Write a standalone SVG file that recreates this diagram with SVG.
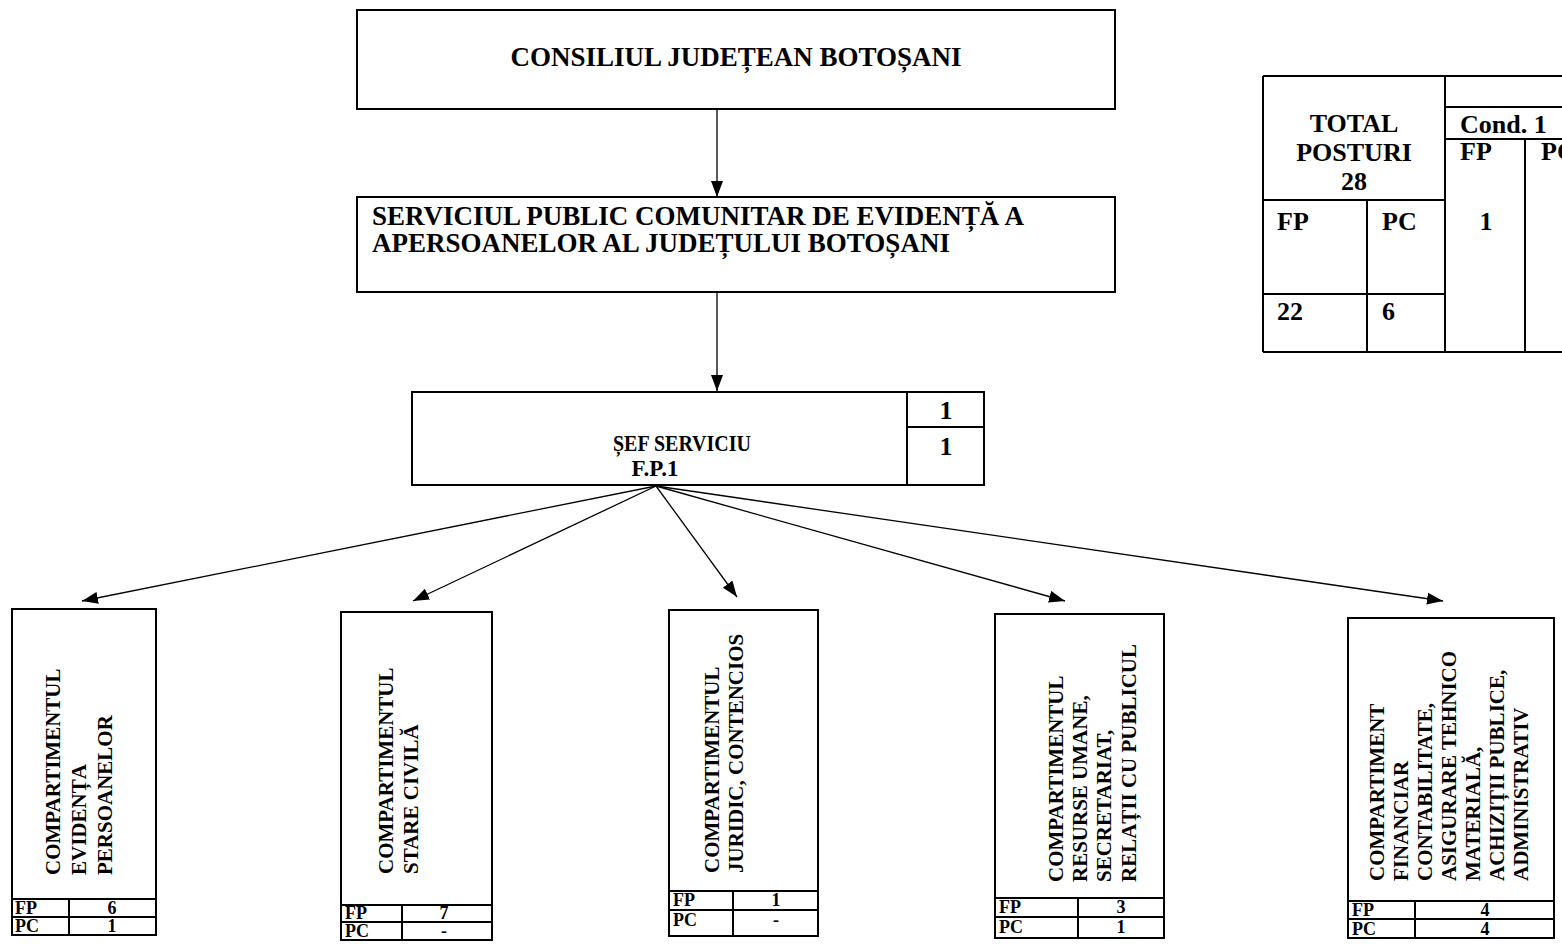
<svg xmlns="http://www.w3.org/2000/svg" width="1562" height="950" viewBox="0 0 1562 950">
<style>
.b{fill:#fff;stroke:#000;stroke-width:2}
.l{stroke:#000;stroke-width:2;fill:none}
.c{stroke:#000;stroke-width:1.3;fill:none;marker-end:url(#ah)}
text{font-family:"Liberation Serif","Times New Roman",serif;font-weight:bold;fill:#000}
.h{font-size:27px}
.t{font-size:26px}
.m{font-size:21px}
.s{font-size:18px}
.mid{text-anchor:middle}
</style>
<defs>
<marker id="ah" markerUnits="userSpaceOnUse" markerWidth="16" markerHeight="12" refX="16" refY="6" orient="auto" viewBox="0 0 16 12">
<path d="M0,0 L16,6 L0,12 z" fill="#000"/>
</marker>
</defs>

<g id="connectors">
<line class="c" x1="717" y1="110" x2="717" y2="197"/>
<line class="c" x1="717" y1="292" x2="717" y2="391"/>
<line class="c" x1="656" y1="486" x2="82" y2="601"/>
<line class="c" x1="656" y1="486" x2="413" y2="601"/>
<line class="c" x1="656" y1="486" x2="737" y2="597"/>
<line class="c" x1="656" y1="486" x2="1065" y2="601"/>
<line class="c" x1="656" y1="486" x2="1443" y2="601"/>
</g>

<g id="consiliul">
<rect class="b" x="357" y="10" width="758" height="99"/>
<text class="h mid" x="736" y="66">CONSILIUL JUDEȚEAN BOTOȘANI</text>
</g>

<g id="serviciul">
<rect class="b" x="357" y="197" width="758" height="95"/>
<text class="h" x="372" y="225">SERVICIUL PUBLIC COMUNITAR DE EVIDENȚĂ A</text>
<text class="h" x="372" y="252">APERSOANELOR AL JUDEȚULUI BOTOȘANI</text>
</g>

<g id="sef">
<rect class="b" x="412" y="392" width="572" height="93"/>
<line class="l" x1="907" y1="392" x2="907" y2="485"/>
<line class="l" x1="907" y1="427" x2="984" y2="427"/>
<text class="mid" style="font-size:23px" x="682" y="451" textLength="138" lengthAdjust="spacingAndGlyphs">ȘEF SERVICIU</text>
<text class="mid" style="font-size:23px" x="655" y="476">F.P.1</text>
<text class="t mid" x="946" y="419">1</text>
<text class="t mid" x="946" y="455">1</text>
</g>

<g id="total">
<line class="l" x1="1263" y1="76" x2="1563" y2="76"/>
<line class="l" x1="1263" y1="352" x2="1563" y2="352"/>
<line class="l" x1="1263" y1="76" x2="1263" y2="352"/>
<line class="l" x1="1445" y1="76" x2="1445" y2="352"/>
<line class="l" x1="1445" y1="107" x2="1563" y2="107"/>
<line class="l" x1="1445" y1="139" x2="1563" y2="139"/>
<line class="l" x1="1525" y1="139" x2="1525" y2="352"/>
<line class="l" x1="1263" y1="200" x2="1445" y2="200"/>
<line class="l" x1="1367" y1="200" x2="1367" y2="352"/>
<line class="l" x1="1263" y1="294" x2="1445" y2="294"/>
<text class="t mid" x="1354" y="132">TOTAL</text>
<text class="t mid" x="1354" y="161">POSTURI</text>
<text class="t mid" x="1354" y="190">28</text>
<text class="t" x="1460" y="133">Cond. 1</text>
<text class="t" x="1460" y="160">FP</text>
<text class="t" x="1541" y="160">PC</text>
<text class="t mid" x="1486" y="230">1</text>
<text class="t" x="1277" y="230">FP</text>
<text class="t" x="1382" y="230">PC</text>
<text class="t" x="1277" y="320">22</text>
<text class="t" x="1382" y="320">6</text>
</g>

<g id="comp1">
<rect class="b" x="12" y="609" width="144" height="326"/>
<line class="l" x1="12" y1="899" x2="156" y2="899"/>
<line class="l" x1="12" y1="917" x2="156" y2="917"/>
<line class="l" x1="69" y1="899" x2="69" y2="935"/>
<text class="m" transform="translate(60,875) rotate(-90)">COMPARTIMENTUL</text>
<text class="m" transform="translate(86,875) rotate(-90)">EVIDENȚA</text>
<text class="m" transform="translate(112,875) rotate(-90)">PERSOANELOR</text>
<text class="s" x="15" y="914">FP</text>
<text class="s mid" x="112" y="914">6</text>
<text class="s" x="15" y="932">PC</text>
<text class="s mid" x="112" y="932">1</text>
</g>

<g id="comp2">
<rect class="b" x="341" y="612" width="151" height="328"/>
<line class="l" x1="341" y1="905" x2="492" y2="905"/>
<line class="l" x1="341" y1="922" x2="492" y2="922"/>
<line class="l" x1="402" y1="905" x2="402" y2="940"/>
<text class="m" transform="translate(393,874) rotate(-90)">COMPARTIMENTUL</text>
<text class="m" transform="translate(418,874) rotate(-90)">STARE CIVILĂ</text>
<text class="s" x="345" y="919">FP</text>
<text class="s mid" x="444" y="919">7</text>
<text class="s" x="345" y="937">PC</text>
<text class="s mid" x="444" y="937">-</text>
</g>

<g id="comp3">
<rect class="b" x="669" y="610" width="149" height="326"/>
<line class="l" x1="669" y1="891" x2="818" y2="891"/>
<line class="l" x1="669" y1="910" x2="818" y2="910"/>
<line class="l" x1="733" y1="891" x2="733" y2="936"/>
<text class="m" transform="translate(719,873) rotate(-90)">COMPARTIMENTUL</text>
<text class="m" transform="translate(743,873) rotate(-90)">JURIDIC, CONTENCIOS</text>
<text class="s" x="673" y="906">FP</text>
<text class="s mid" x="776" y="906">1</text>
<text class="s" x="673" y="926">PC</text>
<text class="s mid" x="776" y="926">-</text>
</g>

<g id="comp4">
<rect class="b" x="995" y="614" width="169" height="324"/>
<line class="l" x1="995" y1="898" x2="1164" y2="898"/>
<line class="l" x1="995" y1="917" x2="1164" y2="917"/>
<line class="l" x1="1078" y1="898" x2="1078" y2="938"/>
<text class="m" transform="translate(1063,882) rotate(-90)">COMPARTIMENTUL</text>
<text class="m" transform="translate(1087,882) rotate(-90)">RESURSE UMANE,</text>
<text class="m" transform="translate(1111,882) rotate(-90)">SECRETARIAT,</text>
<text class="m" transform="translate(1136,882) rotate(-90)">RELAȚII CU PUBLICUL</text>
<text class="s" x="999" y="913">FP</text>
<text class="s mid" x="1121" y="913">3</text>
<text class="s" x="999" y="933">PC</text>
<text class="s mid" x="1121" y="933">1</text>
</g>

<g id="comp5">
<rect class="b" x="1348" y="618" width="206" height="320"/>
<line class="l" x1="1348" y1="901" x2="1554" y2="901"/>
<line class="l" x1="1348" y1="919" x2="1554" y2="919"/>
<line class="l" x1="1415" y1="901" x2="1415" y2="938"/>
<text class="m" transform="translate(1384,881) rotate(-90)">COMPARTIMENT</text>
<text class="m" transform="translate(1408,881) rotate(-90)">FINANCIAR</text>
<text class="m" transform="translate(1432,881) rotate(-90)">CONTABILITATE,</text>
<text class="m" transform="translate(1456,881) rotate(-90)">ASIGURARE TEHNICO</text>
<text class="m" transform="translate(1480,881) rotate(-90)">MATERIALĂ,</text>
<text class="m" transform="translate(1504,881) rotate(-90)">ACHIZIȚII PUBLICE,</text>
<text class="m" transform="translate(1528,881) rotate(-90)">ADMINISTRATIV</text>
<text class="s" x="1352" y="916">FP</text>
<text class="s mid" x="1485" y="916">4</text>
<text class="s" x="1352" y="935">PC</text>
<text class="s mid" x="1485" y="935">4</text>
</g>
</svg>
